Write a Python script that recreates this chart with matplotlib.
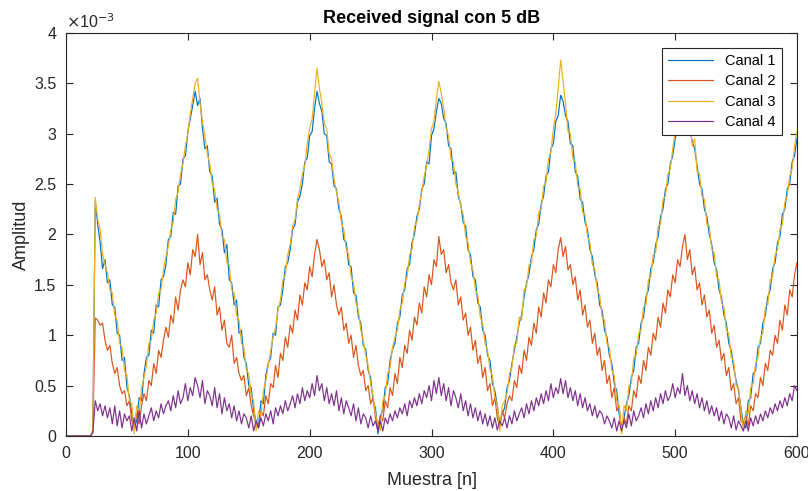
import numpy as np
import matplotlib.pyplot as plt
from matplotlib.ticker import FuncFormatter

# values read every 2 samples from the trace, in units of 1e-3
muestra = np.arange(0, 601, 2)

canal1 = [0, 0, 0, 0, 0, 0, 0, 0, 0, 0, 0, 0.05,
          2.33, 2.10, 1.92, 1.66, 1.75, 1.52, 1.55, 1.30, 1.28, 1.02, 1.00, 0.75, 0.78, 0.48, 0.40, 0.22, 0.08,
          0.15, 0.38, 0.35, 0.62, 0.78, 0.80, 1.05, 1.02, 1.30, 1.28, 1.55, 1.58, 1.70, 1.95, 1.98,
          2.22, 2.20, 2.48, 2.50, 2.75, 2.78, 3.02, 3.15, 3.28, 3.42,
          3.28, 3.35, 3.05, 2.85, 2.88, 2.62, 2.58, 2.32, 2.36, 2.10, 2.05, 1.82, 1.90, 1.55, 1.52,
          1.30, 1.35, 1.02, 1.05, 0.78, 0.72, 0.50, 0.48, 0.25, 0.15,
          0.10, 0.35, 0.32, 0.60, 0.72, 0.78, 1.02, 1.00, 1.28, 1.30, 1.45, 1.68, 1.72, 1.85, 2.05,
          2.10, 2.32, 2.38, 2.50, 2.72, 2.76, 2.98, 3.02, 3.25, 3.42,
          3.30, 3.22, 3.00, 2.98, 2.72, 2.70, 2.48, 2.45, 2.25, 2.18, 1.95, 1.92, 1.70, 1.68, 1.42,
          1.40, 1.18, 1.12, 0.90, 0.86, 0.65, 0.58, 0.35, 0.28, 0.02,
          0.20, 0.25, 0.48, 0.52, 0.75, 0.86, 0.92, 1.12, 1.18, 1.40, 1.45, 1.66, 1.70, 1.92, 2.00,
          2.18, 2.25, 2.45, 2.50, 2.72, 2.70, 2.98, 3.05, 3.22, 3.35,
          3.30, 3.15, 3.10, 2.88, 2.85, 2.60, 2.62, 2.38, 2.30, 2.12, 2.08, 1.85, 1.80, 1.58, 1.55,
          1.32, 1.28, 1.05, 1.00, 0.80, 0.75, 0.52, 0.45, 0.30, 0.12,
          0.22, 0.28, 0.48, 0.55, 0.72, 0.85, 0.98, 1.12, 1.20, 1.38, 1.52, 1.60, 1.78, 1.85, 2.05,
          2.10, 2.30, 2.38, 2.58, 2.62, 2.85, 2.90, 3.12, 3.18, 3.38,
          3.32, 3.18, 3.12, 2.90, 2.88, 2.62, 2.58, 2.35, 2.32, 2.12, 2.05, 1.85, 1.78, 1.60, 1.52,
          1.30, 1.25, 1.05, 0.98, 0.80, 0.72, 0.52, 0.45, 0.22, 0.08,
          0.18, 0.32, 0.40, 0.58, 0.65, 0.88, 0.92, 1.12, 1.18, 1.38, 1.45, 1.66, 1.72, 1.90, 1.98,
          2.18, 2.25, 2.45, 2.50, 2.70, 2.78, 2.95, 3.05, 3.18, 3.35,
          3.30, 3.25, 3.05, 2.92, 2.85, 2.68, 2.50, 2.45, 2.25, 2.18, 2.00, 1.90, 1.72, 1.65, 1.45,
          1.38, 1.20, 1.12, 0.92, 0.85, 0.68, 0.55, 0.45, 0.28, 0.12,
          0.08, 0.35, 0.38, 0.62, 0.65, 0.88, 0.92, 1.12, 1.20, 1.38, 1.45, 1.66, 1.72, 1.92, 1.98,
          2.20, 2.25, 2.45, 2.50, 2.72, 2.78, 2.95]

canal2 = [0, 0, 0, 0, 0, 0, 0, 0, 0, 0, 0, 0.04,
          1.17, 1.15, 1.10, 1.12, 0.95, 0.85, 0.90, 0.72, 0.62, 0.68, 0.50, 0.42, 0.45, 0.30, 0.35, 0.15, 0.10,
          0.22, 0.12, 0.30, 0.42, 0.35, 0.55, 0.50, 0.72, 0.62, 0.85, 0.78, 0.95, 1.08, 0.98, 1.20,
          1.12, 1.38, 1.25, 1.45, 1.55, 1.48, 1.72, 1.60, 1.85, 1.78,
          2.00, 1.70, 1.82, 1.55, 1.60, 1.45, 1.35, 1.48, 1.20, 1.28, 1.05, 1.15, 0.92, 0.88, 1.00,
          0.72, 0.78, 0.62, 0.55, 0.60, 0.40, 0.48, 0.30, 0.20, 0.12,
          0.08, 0.25, 0.20, 0.40, 0.32, 0.52, 0.48, 0.70, 0.58, 0.82, 0.75, 0.98, 0.88, 1.10, 1.02,
          1.25, 1.15, 1.40, 1.30, 1.52, 1.45, 1.68, 1.58, 1.80, 1.95,
          1.85, 1.68, 1.75, 1.55, 1.62, 1.38, 1.50, 1.30, 1.20, 1.28, 1.05, 1.12, 0.92, 1.00, 0.78,
          0.90, 0.70, 0.60, 0.65, 0.45, 0.50, 0.32, 0.38, 0.18, 0.10,
          0.20, 0.15, 0.35, 0.28, 0.48, 0.40, 0.62, 0.52, 0.78, 0.68, 0.90, 0.82, 1.05, 0.95, 1.18,
          1.10, 1.32, 1.22, 1.48, 1.38, 1.60, 1.50, 1.75, 1.68, 1.98,
          1.80, 1.85, 1.62, 1.70, 1.52, 1.45, 1.55, 1.30, 1.38, 1.15, 1.22, 1.00, 1.08, 0.85, 0.95,
          0.72, 0.80, 0.58, 0.68, 0.45, 0.52, 0.30, 0.38, 0.18, 0.08,
          0.25, 0.18, 0.32, 0.40, 0.35, 0.55, 0.48, 0.70, 0.62, 0.85, 0.75, 0.98, 0.90, 1.12, 1.02,
          1.28, 1.18, 1.42, 1.32, 1.55, 1.48, 1.70, 1.62, 1.85, 1.97,
          1.78, 1.88, 1.65, 1.70, 1.50, 1.58, 1.35, 1.45, 1.20, 1.30, 1.08, 1.15, 0.92, 1.02, 0.80,
          0.88, 0.65, 0.75, 0.52, 0.60, 0.38, 0.48, 0.25, 0.30, 0.05,
          0.18, 0.12, 0.30, 0.25, 0.45, 0.38, 0.60, 0.52, 0.75, 0.65, 0.88, 0.80, 1.02, 0.95, 1.18,
          1.08, 1.32, 1.22, 1.45, 1.38, 1.60, 1.52, 1.75, 1.68, 1.88,
          2.00, 1.75, 1.85, 1.60, 1.68, 1.45, 1.52, 1.30, 1.40, 1.18, 1.25, 1.02, 1.10, 0.88, 0.95,
          0.75, 0.82, 0.60, 0.68, 0.45, 0.52, 0.32, 0.38, 0.15, 0.12,
          0.20, 0.10, 0.30, 0.25, 0.42, 0.38, 0.58, 0.50, 0.72, 0.65, 0.85, 0.80, 1.00, 0.92, 1.15,
          1.05, 1.30, 1.20, 1.45, 1.38, 1.60, 1.72]

canal3 = [0, 0, 0, 0, 0, 0, 0, 0, 0, 0, 0, 0.06,
          2.37, 2.15, 2.05, 1.80, 1.70, 1.62, 1.45, 1.42, 1.20, 1.15, 0.92, 0.88, 0.65, 0.60, 0.35, 0.32, 0.02,
          0.30, 0.22, 0.48, 0.58, 0.70, 0.92, 0.95, 1.15, 1.22, 1.42, 1.45, 1.65, 1.78, 1.88, 2.05,
          2.12, 2.35, 2.42, 2.60, 2.70, 2.88, 3.00, 3.20, 3.35, 3.50,
          3.55, 3.30, 3.12, 2.98, 2.80, 2.70, 2.50, 2.45, 2.25, 2.20, 1.98, 1.95, 1.72, 1.70, 1.45,
          1.42, 1.20, 1.15, 0.92, 0.88, 0.65, 0.62, 0.40, 0.35, 0.05,
          0.25, 0.20, 0.45, 0.55, 0.70, 0.85, 0.98, 1.08, 1.25, 1.35, 1.55, 1.60, 1.80, 1.90, 2.08,
          2.15, 2.35, 2.45, 2.60, 2.68, 2.90, 3.05, 3.15, 3.40, 3.65,
          3.45, 3.30, 3.10, 3.05, 2.80, 2.75, 2.55, 2.42, 2.32, 2.12, 2.05, 1.85, 1.80, 1.58, 1.52,
          1.32, 1.25, 1.05, 0.95, 0.80, 0.70, 0.52, 0.40, 0.22, 0.12,
          0.05, 0.35, 0.40, 0.62, 0.68, 0.88, 0.98, 1.05, 1.25, 1.32, 1.52, 1.58, 1.80, 1.85, 2.08,
          2.12, 2.30, 2.42, 2.58, 2.68, 2.85, 3.05, 3.12, 3.35, 3.52,
          3.40, 3.25, 3.05, 2.98, 2.75, 2.72, 2.50, 2.42, 2.28, 2.20, 1.98, 1.92, 1.72, 1.65, 1.45,
          1.40, 1.18, 1.12, 0.92, 0.85, 0.65, 0.60, 0.38, 0.32, 0.05,
          0.30, 0.35, 0.42, 0.62, 0.68, 0.90, 0.92, 1.18, 1.15, 1.45, 1.48, 1.70, 1.72, 1.95, 1.98,
          2.22, 2.25, 2.48, 2.52, 2.75, 2.82, 3.05, 3.20, 3.45, 3.73,
          3.52, 3.30, 3.02, 3.00, 2.75, 2.72, 2.48, 2.45, 2.22, 2.20, 1.98, 1.92, 1.70, 1.66, 1.45,
          1.40, 1.18, 1.15, 0.92, 0.88, 0.65, 0.60, 0.35, 0.30, 0.02,
          0.30, 0.25, 0.50, 0.52, 0.78, 0.80, 1.02, 1.05, 1.28, 1.30, 1.55, 1.58, 1.80, 1.82, 2.08,
          2.10, 2.35, 2.38, 2.60, 2.65, 2.85, 3.02, 3.15, 3.30, 3.50,
          3.42, 3.18, 3.15, 2.88, 2.95, 2.62, 2.60, 2.38, 2.35, 2.10, 2.08, 1.85, 1.82, 1.58, 1.55,
          1.32, 1.28, 1.05, 1.02, 0.78, 0.75, 0.50, 0.48, 0.25, 0.05,
          0.25, 0.22, 0.48, 0.52, 0.72, 0.78, 0.98, 1.02, 1.28, 1.30, 1.55, 1.58, 1.80, 1.85, 2.05,
          2.10, 2.32, 2.38, 2.58, 2.65, 2.88, 3.02]

canal4 = [0, 0, 0, 0, 0, 0, 0, 0, 0, 0, 0, 0.03,
          0.35, 0.25, 0.32, 0.20, 0.30, 0.18, 0.28, 0.12, 0.30, 0.10, 0.25, 0.08, 0.22, 0.15, 0.20, 0.05, 0.18,
          0.05, 0.25, 0.08, 0.22, 0.12, 0.20, 0.28, 0.15, 0.25, 0.18, 0.32, 0.22, 0.30, 0.35, 0.25,
          0.40, 0.28, 0.45, 0.32, 0.38, 0.52, 0.35, 0.48, 0.40, 0.58,
          0.50, 0.38, 0.55, 0.32, 0.45, 0.40, 0.30, 0.48, 0.28, 0.42, 0.22, 0.38, 0.25, 0.32, 0.18,
          0.30, 0.15, 0.25, 0.12, 0.22, 0.18, 0.08, 0.20, 0.05, 0.15,
          0.08, 0.18, 0.10, 0.22, 0.15, 0.25, 0.12, 0.28, 0.20, 0.30, 0.22, 0.35, 0.25, 0.32, 0.40,
          0.28, 0.42, 0.32, 0.48, 0.35, 0.45, 0.38, 0.52, 0.40, 0.60,
          0.45, 0.52, 0.35, 0.48, 0.32, 0.42, 0.30, 0.45, 0.25, 0.38, 0.22, 0.35, 0.28, 0.20, 0.32,
          0.15, 0.28, 0.12, 0.22, 0.18, 0.08, 0.20, 0.10, 0.15, 0.05,
          0.15, 0.05, 0.18, 0.12, 0.22, 0.15, 0.25, 0.18, 0.28, 0.22, 0.32, 0.20, 0.35, 0.28, 0.38,
          0.30, 0.42, 0.32, 0.45, 0.38, 0.50, 0.35, 0.55, 0.42, 0.58,
          0.40, 0.52, 0.35, 0.48, 0.30, 0.45, 0.38, 0.28, 0.42, 0.25, 0.35, 0.20, 0.32, 0.18, 0.28,
          0.15, 0.25, 0.12, 0.22, 0.10, 0.20, 0.08, 0.18, 0.06, 0.15,
          0.10, 0.18, 0.08, 0.20, 0.12, 0.25, 0.15, 0.22, 0.28, 0.18, 0.32, 0.22, 0.35, 0.25, 0.38,
          0.30, 0.42, 0.32, 0.45, 0.35, 0.52, 0.38, 0.48, 0.42, 0.57,
          0.42, 0.55, 0.38, 0.48, 0.35, 0.45, 0.30, 0.42, 0.28, 0.38, 0.25, 0.32, 0.20, 0.30, 0.18,
          0.25, 0.22, 0.12, 0.20, 0.15, 0.08, 0.18, 0.05, 0.15, 0.05,
          0.15, 0.08, 0.22, 0.10, 0.25, 0.15, 0.20, 0.28, 0.18, 0.32, 0.22, 0.35, 0.25, 0.38, 0.28,
          0.42, 0.32, 0.45, 0.35, 0.40, 0.52, 0.38, 0.48, 0.42, 0.62,
          0.40, 0.50, 0.35, 0.45, 0.32, 0.42, 0.28, 0.38, 0.25, 0.35, 0.22, 0.30, 0.20, 0.28, 0.15,
          0.25, 0.12, 0.22, 0.18, 0.08, 0.20, 0.06, 0.15, 0.10, 0.05,
          0.15, 0.05, 0.18, 0.10, 0.20, 0.12, 0.22, 0.15, 0.25, 0.18, 0.28, 0.22, 0.32, 0.25, 0.35,
          0.28, 0.38, 0.30, 0.42, 0.35, 0.50, 0.45]

etiquetas = ['Canal 1', 'Canal 2', 'Canal 3', 'Canal 4']
colores = ['#0072BD', '#D95319', '#EDB120', '#7E2F8E']

for serie in (canal1, canal2, canal3, canal4):
    assert len(serie) == len(muestra), len(serie)

plt.rcParams['font.family'] = ['Liberation Sans', 'DejaVu Sans']
txt = '#262626'

fig = plt.figure(figsize=(8.08, 4.91), dpi=100)
ax = fig.add_axes([0.0817, 0.112, 0.9047, 0.821])

for serie, lab, col in zip([canal1, canal2, canal3, canal4], etiquetas, colores):
    ax.plot(muestra, serie, color=col, lw=0.85, label=lab)

ax.set_xlim(0, 600)
ax.set_ylim(0, 4)
ax.set_xticks(np.arange(0, 601, 100))
ax.set_yticks(np.arange(0, 4.01, 0.5))
ax.yaxis.set_major_formatter(FuncFormatter(lambda v, p: '%g' % v))
ax.tick_params(direction='in', top=True, right=True, length=5, width=0.8,
               colors=txt, labelsize=11.5, pad=7)
for s in ax.spines.values():
    s.set_color(txt)
    s.set_linewidth(0.8)

ax.text(0, 1.005, r'$\times$10$^{-3}$', transform=ax.transAxes, fontsize=11.5,
        color=txt, ha='left', va='bottom')
ax.set_title('Received signal con 5 dB', fontsize=13, fontweight='bold', pad=7)
ax.set_xlabel('Muestra [n]', fontsize=13, color=txt, labelpad=8)
ax.set_ylabel('Amplitud', fontsize=13, color=txt, labelpad=3)

leg = ax.legend(loc='upper right', bbox_to_anchor=(0.9795, 0.963), borderaxespad=0,
                fontsize=10.5, fancybox=False, framealpha=1, edgecolor=txt,
                handlelength=3.1, borderpad=0.45, labelspacing=0.42, handletextpad=0.8)
leg.get_frame().set_linewidth(0.8)

fig.savefig('out.png', dpi=100)
